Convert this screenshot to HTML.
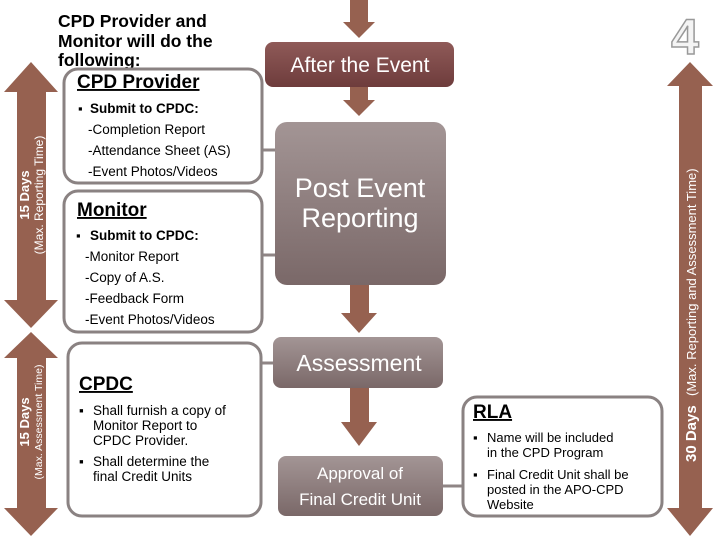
<!DOCTYPE html>
<html><head><meta charset="utf-8"><style>
html,body{margin:0;padding:0;background:#fff}
svg{display:block}
text{font-family:"Liberation Sans","DejaVu Sans",sans-serif}
</style></head><body>
<svg width="720" height="540" viewBox="0 0 720 540" xmlns="http://www.w3.org/2000/svg">
<defs>
<linearGradient id="gd" x1="0" y1="0" x2="0" y2="1"><stop offset="0" stop-color="#8f5a58"/><stop offset="1" stop-color="#6e3c3c"/></linearGradient>
<linearGradient id="gg" x1="0" y1="0" x2="0" y2="1"><stop offset="0" stop-color="#a39595"/><stop offset="1" stop-color="#7a6868"/></linearGradient>
</defs>
<g fill="#966150">
<!-- center arrows -->
<polygon points="350,0 368,0 368,22 375,22 359,38 343,22 350,22"/>
<polygon points="350,87 368,87 368,100 375,100 359,116 343,100 350,100"/>
<polygon points="350,285 369,285 369,313 377,313 359,333 341,313 350,313"/>
<polygon points="350,388 369,388 369,422 377,422 359,446 341,422 350,422"/>
<!-- left double arrows -->
<polygon points="31,62 58,92 46,92 46,300 58,300 31,328 4,300 17,300 17,92 4,92"/>
<polygon points="31,332 58,358 46,358 46,508 58,508 31,536 4,508 17,508 17,358 4,358"/>
<!-- right double arrow -->
<polygon points="690,62 713,86 702,86 702,508 713,508 690,536 667,508 679,508 679,86 667,86"/>
</g>
<!-- left arrow texts -->
<g transform="translate(31,195) rotate(-90)" fill="#fff" text-anchor="middle">
<text x="0" y="-2" font-size="13" font-weight="bold">15 Days</text>
<text x="0" y="12" font-size="12">(Max. Reporting Time)</text>
</g>
<g transform="translate(31,422) rotate(-90)" fill="#fff" text-anchor="middle">
<text x="0" y="-2" font-size="13" font-weight="bold">15 Days</text>
<text x="0" y="11" font-size="10.5">(Max. Assessment Time)</text>
</g>
<g transform="translate(696,462) rotate(-90)" fill="#fff">
<text x="0" y="0" font-size="15" font-weight="bold">30 Days</text>
<text x="66" y="0" font-size="13">(Max. Reporting and Assessment Time)</text>
</g>
<!-- 4 -->
<text x="685" y="54" font-size="50" font-weight="bold" text-anchor="middle" fill="#f4f4f4" stroke="#999" stroke-width="1.5">4</text>
<!-- title -->
<g font-size="17.5" font-weight="bold" fill="#000">
<text x="58" y="27">CPD Provider and</text>
<text x="58" y="47">Monitor will do the</text>
<text x="58" y="66">following:</text>
</g>
<!-- connectors -->
<g stroke="#8f8585" stroke-width="3">
<line x1="262" y1="150" x2="276" y2="150"/>
<line x1="262" y1="255" x2="276" y2="255"/>
<line x1="261" y1="363" x2="274" y2="363"/>
<line x1="442" y1="486" x2="463" y2="486"/>
</g>
<!-- left boxes -->
<g fill="#fff" stroke="#8a8282" stroke-width="3">
<rect x="64" y="69" width="198" height="114" rx="14"/>
<rect x="64" y="191" width="198" height="141" rx="14"/>
<rect x="68" y="343" width="193" height="173" rx="14"/>
<rect x="463" y="397" width="199" height="119" rx="14"/>
</g>
<!-- center boxes -->
<rect x="265" y="42" width="189" height="45" rx="8" fill="url(#gd)"/>
<text x="360" y="72" font-size="21" fill="#fff" text-anchor="middle">After the Event</text>
<rect x="275" y="122" width="171" height="163" rx="12" fill="url(#gg)"/>
<text x="360" y="197" font-size="27" fill="#fff" text-anchor="middle">Post Event</text>
<text x="360" y="227" font-size="27" fill="#fff" text-anchor="middle">Reporting</text>
<rect x="273" y="337" width="170" height="51" rx="8" fill="url(#gg)"/>
<text x="359" y="371" font-size="23" fill="#fff" text-anchor="middle">Assessment</text>
<rect x="278" y="456" width="165" height="60" rx="8" fill="url(#gg)"/>
<text x="360" y="479" font-size="17" fill="#fff" text-anchor="middle">Approval of</text>
<text x="360" y="505" font-size="17" fill="#fff" text-anchor="middle">Final Credit Unit</text>
<!-- CPD Provider text -->
<g fill="#000">
<text x="77" y="88" font-size="19" font-weight="bold" text-decoration="underline">CPD Provider</text>
<text x="78" y="113" font-size="13">▪</text>
<text x="90" y="113" font-size="13.5" font-weight="bold">Submit to CPDC:</text>
<g font-size="13.5">
<text x="88" y="134">-Completion Report</text>
<text x="88" y="155">-Attendance Sheet (AS)</text>
<text x="88" y="176">-Event Photos/Videos</text>
</g>
<text x="77" y="216" font-size="19" font-weight="bold" text-decoration="underline">Monitor</text>
<text x="76" y="240" font-size="13">▪</text>
<text x="90" y="240" font-size="13.5" font-weight="bold">Submit to CPDC:</text>
<g font-size="13.5">
<text x="85" y="261">-Monitor Report</text>
<text x="85" y="282">-Copy of A.S.</text>
<text x="85" y="303">-Feedback Form</text>
<text x="85" y="324">-Event Photos/Videos</text>
</g>
<text x="79" y="390" font-size="19" font-weight="bold" text-decoration="underline">CPDC</text>
<g font-size="13.5">
<text x="79" y="415">▪</text>
<text x="93" y="415">Shall furnish a copy of</text>
<text x="93" y="430">Monitor Report to</text>
<text x="93" y="445">CPDC Provider.</text>
<text x="79" y="466">▪</text>
<text x="93" y="466">Shall determine the</text>
<text x="93" y="481">final Credit Units</text>
</g>
<text x="473" y="418" font-size="19" font-weight="bold" text-decoration="underline">RLA</text>
<g font-size="13">
<text x="473" y="442">▪</text>
<text x="487" y="442">Name will be included</text>
<text x="487" y="457">in the CPD Program</text>
<text x="473" y="479">▪</text>
<text x="487" y="479">Final Credit Unit shall be</text>
<text x="487" y="494">posted in the APO-CPD</text>
<text x="487" y="509">Website</text>
</g>
</g>
</svg>
</body></html>
